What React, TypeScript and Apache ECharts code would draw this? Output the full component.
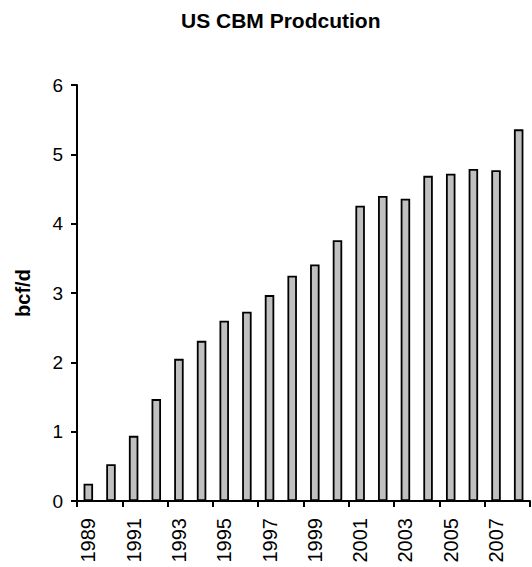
import React, { useEffect, useRef } from "react";
import * as echarts from "echarts";

// Coal-bed methane output, billion cubic feet per day, by year
const years = [
  "1989", "1990", "1991", "1992", "1993", "1994", "1995", "1996", "1997", "1998",
  "1999", "2000", "2001", "2002", "2003", "2004", "2005", "2006", "2007", "2008",
];
const production = [
  0.25, 0.53, 0.94, 1.47, 2.05, 2.31, 2.6, 2.73, 2.97, 3.25,
  3.41, 3.76, 4.26, 4.4, 4.36, 4.69, 4.72, 4.79, 4.77, 5.36,
];
const yTicks = { min: 0, max: 6, step: 1 };

const FONT = "'Liberation Sans', Arial, Helvetica, sans-serif";

export default function App() {
  const ref = useRef<HTMLDivElement>(null);

  useEffect(() => {
    if (!ref.current) return;
    const chart = echarts.init(ref.current, null, { renderer: "svg" });
    chart.setOption({
      animation: false,
      backgroundColor: "#ffffff",
      title: {
        text: "US CBM Prodcution",
        left: 176,
        top: 5,
        textStyle: {
          fontFamily: FONT,
          fontSize: 21,
          fontWeight: "bold",
          color: "#000",
        },
      },
      grid: { left: 77, right: 2, top: 85, bottom: 66, containLabel: false },
      xAxis: {
        type: "category",
        data: years,
        boundaryGap: true,
        axisLine: { show: true, lineStyle: { color: "#000", width: 2 } },
        axisTick: {
          show: true,
          interval: 1,
          length: 6,
          lineStyle: { color: "#000", width: 2 },
        },
        axisLabel: {
          interval: 1,
          rotate: 90,
          margin: 17,
          fontFamily: FONT,
          fontSize: 20,
          color: "#000",
        },
        splitLine: { show: false },
      },
      yAxis: {
        type: "value",
        min: yTicks.min,
        max: yTicks.max,
        interval: yTicks.step,
        name: "bcf/d",
        nameLocation: "middle",
        nameRotate: 90,
        nameGap: 44,
        nameTextStyle: {
          fontFamily: FONT,
          fontSize: 20,
          fontWeight: "bold",
          color: "#000",
        },
        axisLine: { show: true, lineStyle: { color: "#000", width: 2 } },
        axisTick: { show: true, length: 6, lineStyle: { color: "#000", width: 2 } },
        axisLabel: {
          margin: 14,
          fontFamily: FONT,
          fontSize: 19,
          color: "#000",
        },
        splitLine: { show: false },
      },
      series: [
        {
          type: "bar",
          data: production,
          barWidth: 9.5,
          itemStyle: {
            color: "#c0c0c0",
            borderColor: "#000",
            borderWidth: 1.8,
          },
        },
      ],
    });
    return () => chart.dispose();
  }, []);

  return (
    <div
      ref={ref}
      style={{ position: "fixed", left: 0, top: 0, width: 532, height: 567 }}
    />
  );
}
